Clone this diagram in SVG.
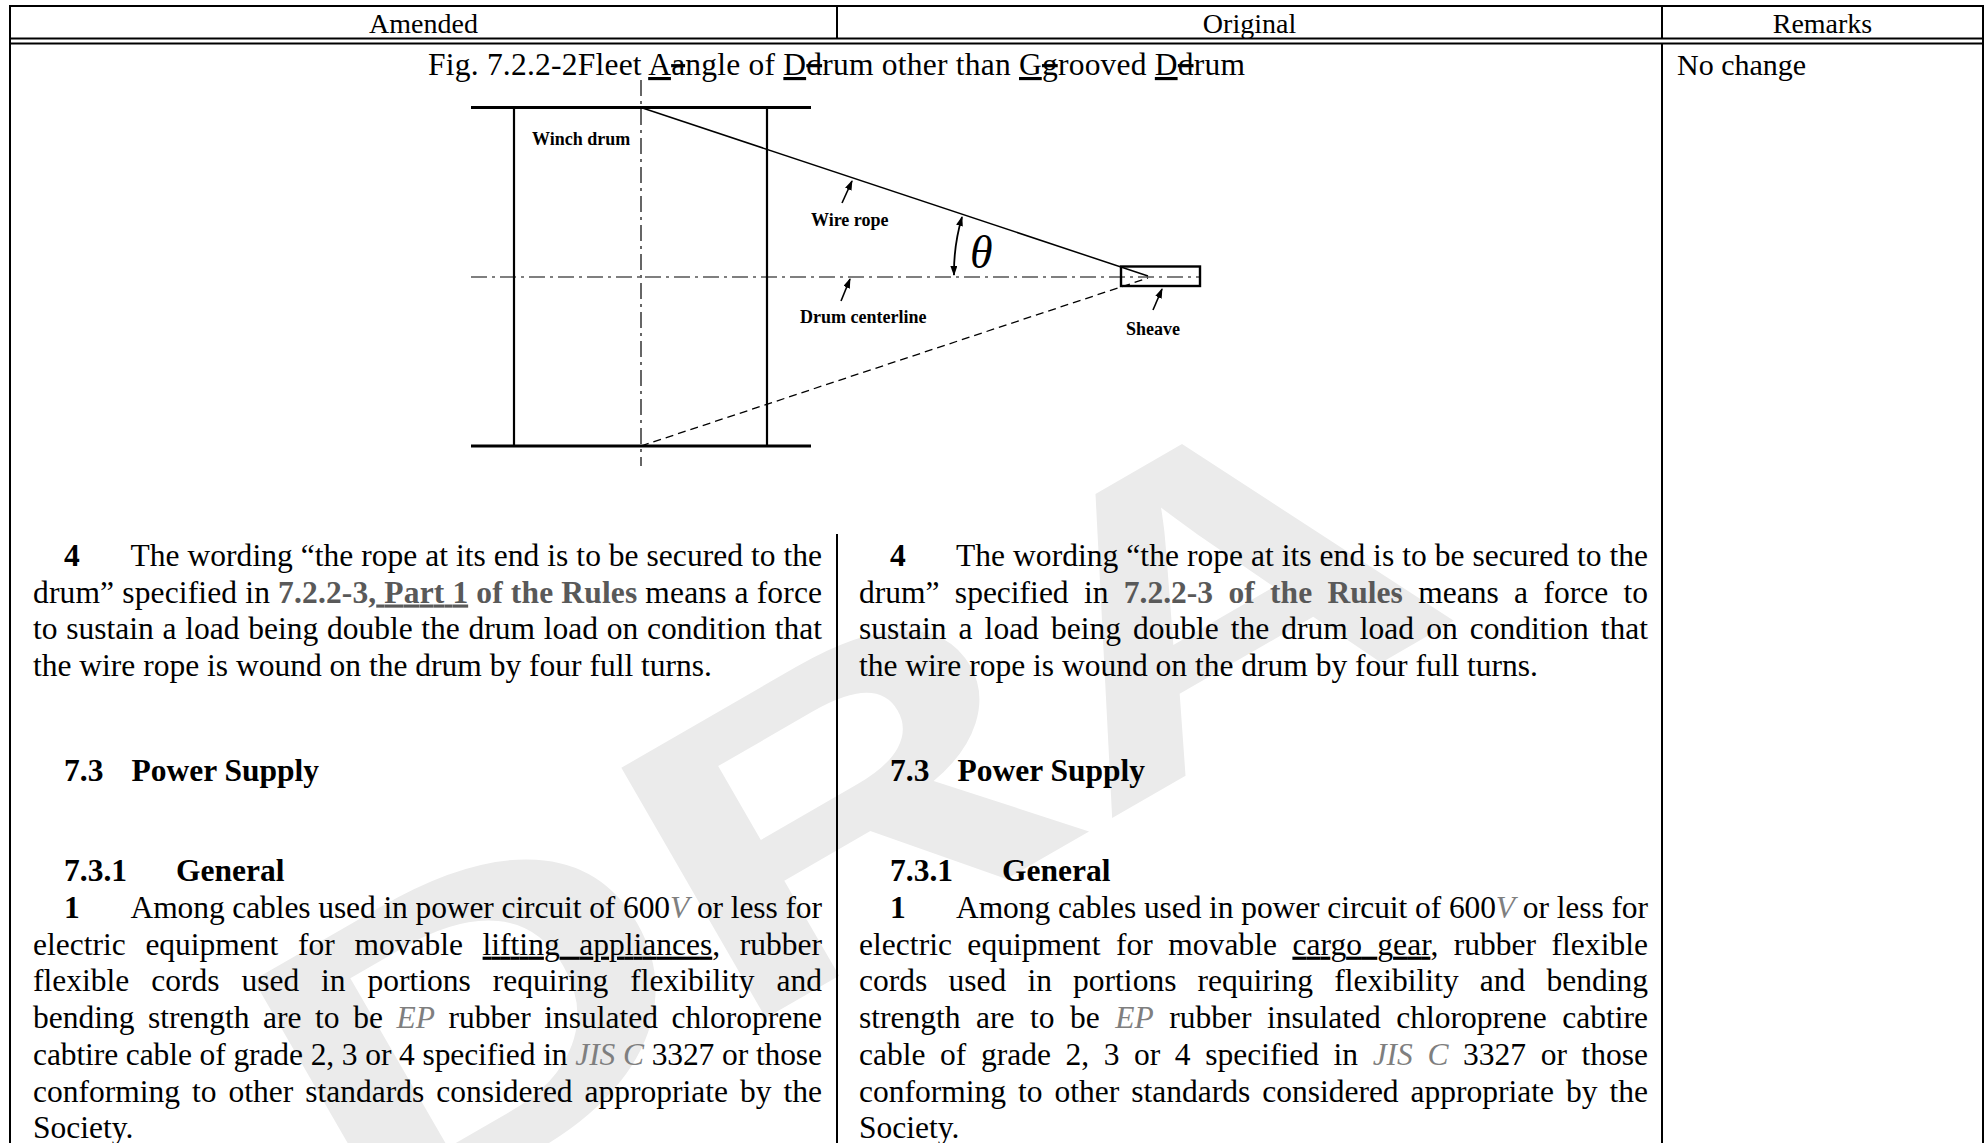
<svg xmlns="http://www.w3.org/2000/svg" width="1986" height="1143" viewBox="0 0 1986 1143">
<style>
.t{font-family:"Liberation Serif","Times New Roman",serif;fill:#000}
.hd{font-size:28px}
.bd{font-size:31.5px}
.b{font-weight:bold}
.g{fill:#595959}
.gi{fill:#7f7f7f;font-style:italic}
.u{text-decoration:underline}
.s{text-decoration:line-through}
.lab{font-family:"Liberation Serif","Times New Roman",serif;font-weight:bold;font-size:18px;fill:#000}
.tl{stroke:#000;stroke-width:2;fill:none}
.cl{stroke:#000;stroke-width:1.2;stroke-dasharray:16 5 3 5;fill:none}
.ld{stroke:#000;stroke-width:1.6;fill:none;marker-end:url(#ah)}
</style>
<defs>
<marker id="ah" markerUnits="userSpaceOnUse" markerWidth="10" markerHeight="7" refX="9" refY="3.5" orient="auto-start-reverse">
<path d="M0,0 L10,3.5 L0,7 z" fill="#000"/>
</marker>
</defs>
<rect width="1986" height="1143" fill="#fff"/>
<g id="watermark">
<text transform="translate(364,1250) rotate(-30) scale(1.4,1)" font-family="Liberation Sans, Arial, sans-serif" font-weight="bold" font-size="420" fill="#ebebeb">DRA</text>
</g>
<g id="table">
<line class="tl" x1="10" y1="6" x2="1983" y2="6"/>
<line class="tl" x1="10" y1="38.5" x2="1983" y2="38.5"/>
<line class="tl" x1="10" y1="43.5" x2="1983" y2="43.5"/>
<line class="tl" x1="10" y1="5" x2="10" y2="1143"/>
<line class="tl" x1="1983" y1="5" x2="1983" y2="1143"/>
<line class="tl" x1="837" y1="6" x2="837" y2="38.5"/>
<line class="tl" x1="1662" y1="6" x2="1662" y2="38.5"/>
<line class="tl" x1="1662" y1="43.5" x2="1662" y2="1143"/>
<line class="tl" x1="837" y1="534" x2="837" y2="1143"/>
</g>
<g id="header">
<text class="t hd" x="423.5" y="33" text-anchor="middle">Amended</text>
<text class="t hd" x="1249.5" y="33" text-anchor="middle">Original</text>
<text class="t hd" x="1822.5" y="33" text-anchor="middle">Remarks</text>
</g>
<g id="title">
<text class="t bd" x="428" y="75" textLength="817" lengthAdjust="spacing">Fig. 7.2.2-2Fleet <tspan class="u">A</tspan><tspan class="s">a</tspan>ngle of <tspan class="u">D</tspan><tspan class="s">d</tspan>rum other than <tspan class="u">G</tspan><tspan class="s">g</tspan>rooved <tspan class="u">D</tspan><tspan class="s">d</tspan>rum</text>
<text class="t" font-size="30" x="1677" y="75">No change</text>
</g>
<g id="figure">
<g id="drum">
<line x1="471" y1="107.5" x2="811" y2="107.5" stroke="#000" stroke-width="2.8"/>
<line x1="471" y1="446" x2="811" y2="446" stroke="#000" stroke-width="2.8"/>
<line x1="514" y1="107.5" x2="514" y2="446" stroke="#000" stroke-width="2.2"/>
<line x1="767" y1="107.5" x2="767" y2="446" stroke="#000" stroke-width="2.2"/>
</g>
<g id="centerlines">
<line class="cl" x1="641" y1="80" x2="641" y2="466"/>
<line class="cl" x1="471" y1="277" x2="1200" y2="277"/>
</g>
<g id="sheave">
<rect x="1121" y="266.5" width="79" height="19.5" fill="none" stroke="#000" stroke-width="2.4"/>
</g>
<g id="ropes">
<line x1="641" y1="107.5" x2="1148" y2="276" stroke="#000" stroke-width="1.5"/>
<line x1="641" y1="446" x2="1148" y2="278" stroke="#000" stroke-width="1.3" stroke-dasharray="8 5"/>
</g>
<g id="connectors">
<line class="ld" x1="842" y1="203" x2="852" y2="181"/>
<line class="ld" x1="841" y1="301" x2="850" y2="279"/>
<line class="ld" x1="1153" y1="310" x2="1162" y2="289"/>
<path d="M962,217 A196,196 0 0 0 954,275" fill="none" stroke="#000" stroke-width="1.8" marker-start="url(#ah)" marker-end="url(#ah)"/>
</g>
<g id="labels">
<text class="lab" x="532" y="145">Winch drum</text>
<text class="lab" x="811" y="226">Wire rope</text>
<text class="lab" x="800" y="323">Drum centerline</text>
<text class="lab" x="1126" y="335">Sheave</text>
<text x="970" y="268" font-family="Liberation Serif, serif" font-style="italic" font-size="46" fill="#000">θ</text>
</g>
</g>
<g id="amended">
<text class="t bd b" x="64" y="566">4</text>
<text class="t bd" x="130.5" y="566" textLength="691.5" lengthAdjust="spacing">The wording “the rope at its end is to be secured to the</text>
<text class="t bd" x="33" y="602.5" textLength="789" lengthAdjust="spacing">drum” specified in <tspan class="b g">7.2.2-3<tspan class="u">, Part 1</tspan> of the Rules</tspan> means a force</text>
<text class="t bd" x="33" y="639" word-spacing="0.85" textLength="789" lengthAdjust="spacing">to sustain a load being double the drum load on condition that</text>
<text class="t bd" x="33" y="676">the wire rope is wound on the drum by four full turns.</text>
<text class="t bd b" x="64" y="781">7.3</text>
<text class="t bd b" x="131.5" y="781">Power Supply</text>
<text class="t bd b" x="64" y="881">7.3.1</text>
<text class="t bd b" x="176" y="881">General</text>
<text class="t bd b" x="64" y="918">1</text>
<text class="t bd" x="130.5" y="918" textLength="691.5" lengthAdjust="spacing">Among cables used in power circuit of 600<tspan class="gi">V</tspan> or less for</text>
<text class="t bd" x="33" y="954.7" word-spacing="11.8" textLength="789" lengthAdjust="spacing">electric equipment for movable <tspan class="u">lifting appliances</tspan>, rubber</text>
<text class="t bd" x="33" y="991.4" word-spacing="14.1" textLength="789" lengthAdjust="spacing">flexible cords used in portions requiring flexibility and</text>
<text class="t bd" x="33" y="1028.1" word-spacing="5.7" textLength="789" lengthAdjust="spacing">bending strength are to be <tspan class="gi">EP</tspan> rubber insulated chloroprene</text>
<text class="t bd" x="33" y="1064.8" textLength="789" lengthAdjust="spacing">cabtire cable of grade 2, 3 or 4 specified in <tspan class="gi">JIS C</tspan> 3327 or those</text>
<text class="t bd" x="33" y="1101.5" word-spacing="4.1" textLength="789" lengthAdjust="spacing">conforming to other standards considered appropriate by the</text>
<text class="t bd" x="33" y="1138.2">Society.</text>
</g>
<g id="original">
<text class="t bd b" x="890" y="566">4</text>
<text class="t bd" x="956" y="566" textLength="692" lengthAdjust="spacing">The wording “the rope at its end is to be secured to the</text>
<text class="t bd" x="859" y="602.5" word-spacing="7.5" textLength="789" lengthAdjust="spacing">drum” specified in <tspan class="b g">7.2.2-3 of the Rules</tspan> means a force to</text>
<text class="t bd" x="859" y="639" word-spacing="4.2" textLength="789" lengthAdjust="spacing">sustain a load being double the drum load on condition that</text>
<text class="t bd" x="859" y="676">the wire rope is wound on the drum by four full turns.</text>
<text class="t bd b" x="890" y="781">7.3</text>
<text class="t bd b" x="957.5" y="781">Power Supply</text>
<text class="t bd b" x="890" y="881">7.3.1</text>
<text class="t bd b" x="1002" y="881">General</text>
<text class="t bd b" x="890" y="918">1</text>
<text class="t bd" x="956" y="918" textLength="692" lengthAdjust="spacing">Among cables used in power circuit of 600<tspan class="gi">V</tspan> or less for</text>
<text class="t bd" x="859" y="954.7" word-spacing="7.5" textLength="789" lengthAdjust="spacing">electric equipment for movable <tspan class="u">cargo gear</tspan>, rubber flexible</text>
<text class="t bd" x="859" y="991.4" word-spacing="13.3" textLength="789" lengthAdjust="spacing">cords used in portions requiring flexibility and bending</text>
<text class="t bd" x="859" y="1028.1" word-spacing="7.65" textLength="789" lengthAdjust="spacing">strength are to be <tspan class="gi">EP</tspan> rubber insulated chloroprene cabtire</text>
<text class="t bd" x="859" y="1064.8" word-spacing="6.7" textLength="789" lengthAdjust="spacing">cable of grade 2, 3 or 4 specified in <tspan class="gi">JIS C</tspan> 3327 or those</text>
<text class="t bd" x="859" y="1101.5" word-spacing="4.1" textLength="789" lengthAdjust="spacing">conforming to other standards considered appropriate by the</text>
<text class="t bd" x="859" y="1138.2">Society.</text>
</g>
</svg>
